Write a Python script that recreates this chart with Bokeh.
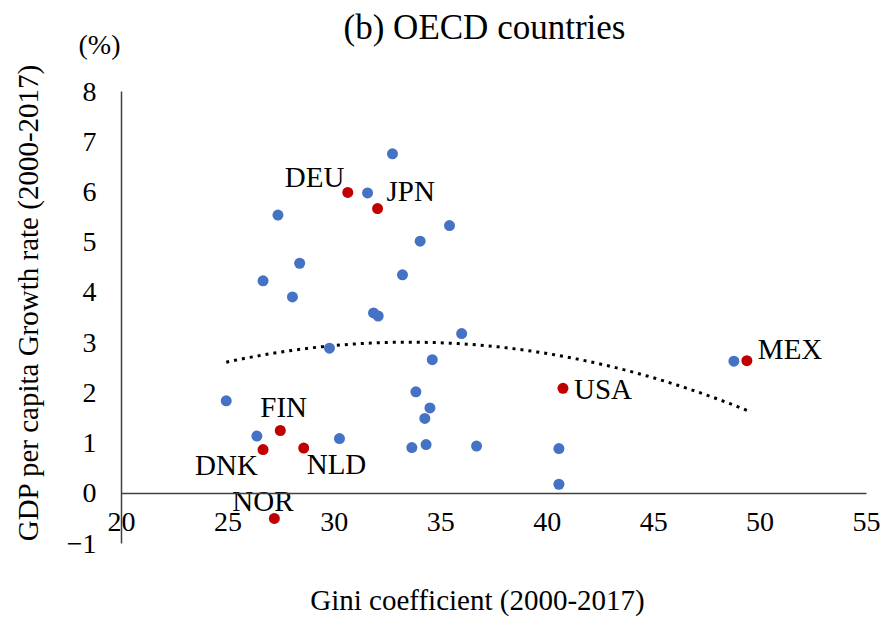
import numpy as np
from bokeh.plotting import figure
from bokeh.models import ColumnDataSource, FixedTicker, Range1d, Label
from bokeh.core.properties import value
from bokeh.embed import file_html
from bokeh.resources import INLINE

FONT = "Liberation Serif"

# ---- data ----
# Other OECD countries (blue markers)
other_gini = [32.73, 31.56, 27.35, 35.41, 34.03, 28.37, 26.65, 33.20, 28.03, 31.84,
              32.06, 35.98, 29.77, 34.60, 48.77, 33.83, 24.92, 34.49, 34.25, 26.36,
              30.24, 36.68, 33.64, 34.31, 40.55, 40.55]
other_growth = [6.76, 5.98, 5.54, 5.33, 5.02, 4.58, 4.23, 4.35, 3.91, 3.59,
                3.53, 3.18, 2.89, 2.66, 2.63, 2.02, 1.84, 1.70, 1.49, 1.14,
                1.09, 0.94, 0.91, 0.97, 0.89, 0.18]

# Highlighted countries (red markers, labelled)
hl_names = ["DEU", "JPN", "FIN", "DNK", "NLD", "NOR", "USA", "MEX"]
hl_gini = [30.63, 32.03, 27.46, 26.65, 28.56, 27.18, 40.74, 49.38]
hl_growth = [5.99, 5.67, 1.25, 0.87, 0.90, -0.50, 2.09, 2.64]

x_ticks = [20, 25, 30, 35, 40, 45, 50, 55]
y_ticks = [-1, 0, 1, 2, 3, 4, 5, 6, 7, 8]
x_bounds = (20, 55)
y_bounds = (-1, 8)

# ---- layout geometry (pixels; style only) ----
W, H = 885, 619
AX_LEFT, AX_RIGHT = 121, 866      # pixel of x=20 and x=55
AX_TOP, AX_BOTTOM = 91, 543       # pixel of y=8 and y=-1
SX = (AX_RIGHT - AX_LEFT) / (x_bounds[1] - x_bounds[0])
SY = (AX_BOTTOM - AX_TOP) / (y_bounds[1] - y_bounds[0])
BASE_FIX = 11                     # baseline correction for text rendering


def px2x(px):
    return x_bounds[0] + (px - AX_LEFT) / SX


def py2y(py):
    return y_bounds[1] - (py - AX_TOP) / SY


# label placement (pixel offsets, style only)
label_dx = [-63, 9, -20, -68, 3, -42, 11, 11]
label_dy = [d - BASE_FIX for d in [-4, -7, -13, 26, 27, -6, 12, -1]]

# ---- polynomial (order 2) trendline over all countries ----
all_x = np.array(other_gini + hl_gini)
all_y = np.array(other_growth + hl_growth)
coef = np.polyfit(all_x, all_y, 2)
trend_x = np.linspace(all_x.min(), all_x.max(), 120)
trend_y = np.polyval(coef, trend_x)

p = figure(width=W, height=H, output_backend="svg", toolbar_location=None,
           x_range=Range1d(px2x(0), px2x(W)), y_range=Range1d(py2y(H), py2y(0)),
           min_border_left=0, min_border_right=0, min_border_top=0, min_border_bottom=0)
p.outline_line_color = None
p.xgrid.visible = False
p.ygrid.visible = False
p.background_fill_color = "white"
p.border_fill_color = "white"

AXC = "#404040"

xa = p.xaxis[0]
xa.fixed_location = 0
xa.bounds = x_bounds
xa.ticker = FixedTicker(ticks=x_ticks)
xa.axis_line_color = AXC
xa.axis_line_width = 1.5
xa.major_tick_line_color = None
xa.major_tick_out = 0
xa.major_tick_in = 0
xa.minor_tick_line_color = None
xa.major_label_standoff = 20
xa.major_label_text_font = FONT
xa.major_label_text_font_size = "28px"
xa.major_label_text_color = "black"

ya = p.yaxis[0]
ya.fixed_location = x_bounds[0]
ya.bounds = y_bounds
ya.ticker = FixedTicker(ticks=y_ticks)
ya.axis_line_color = AXC
ya.axis_line_width = 1.5
ya.major_tick_line_color = None
ya.major_tick_out = 0
ya.major_tick_in = 0
ya.minor_tick_line_color = None
ya.major_label_standoff = 25
ya.major_label_text_font = FONT
ya.major_label_text_font_size = "28px"
ya.major_label_text_color = "black"

# texts
p.add_layout(Label(x=px2x(484), y=py2y(38 - BASE_FIX), text="(b) OECD countries",
                   text_font=FONT, text_font_size="35px", text_color="black",
                   text_align="center", text_baseline="alphabetic"))
p.add_layout(Label(x=px2x(99), y=py2y(55 - BASE_FIX), text="(%)",
                   text_font=FONT, text_font_size="28px", text_color="black",
                   text_align="center", text_baseline="alphabetic"))
p.add_layout(Label(x=px2x(477), y=py2y(610 - BASE_FIX), text="Gini coefficient (2000-2017)",
                   text_font=FONT, text_font_size="29px", text_color="black",
                   text_align="center", text_baseline="alphabetic"))
p.add_layout(Label(x=px2x(38 - BASE_FIX), y=py2y(302), text="GDP per capita Growth rate (2000-2017)",
                   angle=np.pi / 2, text_font=FONT, text_font_size="29px", text_color="black",
                   text_align="center", text_baseline="alphabetic"))

# trendline
p.line(trend_x, trend_y, line_color="black", line_width=3, line_dash="3 5")

# points
p.scatter(other_gini, other_growth, size=11, fill_color="#4472C4", line_color=None)
src = ColumnDataSource(dict(x=hl_gini, y=hl_growth, name=hl_names, dx=label_dx, dy=label_dy))
p.scatter("x", "y", source=src, size=11, fill_color="#C00000", line_color=None)
p.text("x", "y", text="name", source=src, x_offset="dx", y_offset="dy",
       text_font=value(FONT), text_font_size="29px", text_align="left",
       text_baseline="alphabetic", text_color="black")

open("out.html", "w").write(file_html(p, INLINE))
